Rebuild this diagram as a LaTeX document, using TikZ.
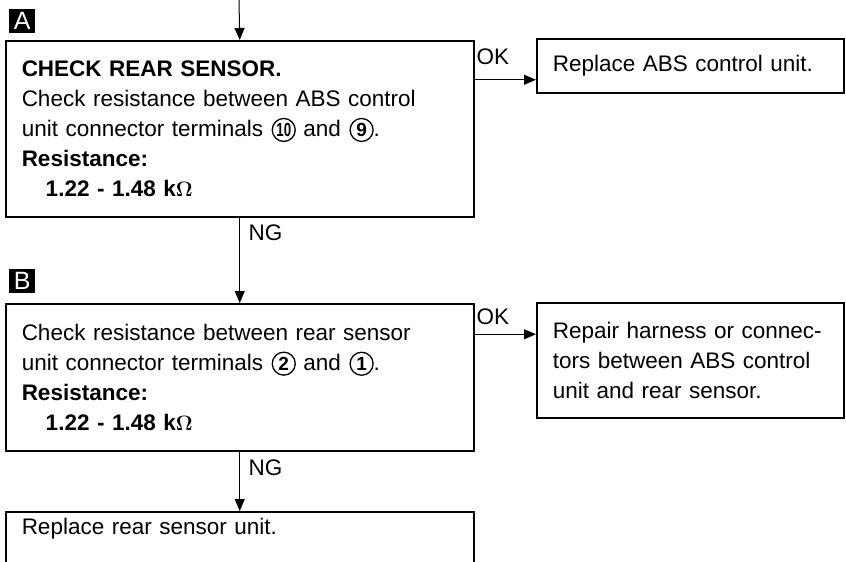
\documentclass[tikz,border=0pt]{standalone}
\usepackage{fontspec}
\usepackage{graphicx}
\setmainfont{Liberation Sans}
\usetikzlibrary{arrows.meta}

\tikzset{
  box/.style={draw, line width=1.5pt, anchor=north west, align=left, inner xsep=16pt,
    font=\fontsize{22.5}{30}\selectfont},
  flow/.style={draw, line width=1pt, -{Triangle[length=12pt,width=10pt]}},
  tag/.style={fill=black, text=white, anchor=north west, inner sep=0pt,
    minimum width=26pt, minimum height=24pt, font=\fontsize{25}{25}\selectfont},
  lbl/.style={font=\fontsize{22.5}{22.5}\selectfont}
}
% circled terminal number
\newcommand{\term}[1]{\hspace{1pt}\tikz[baseline=(t.base)]\node[draw, circle, line width=1.3pt,
  inner sep=0pt, minimum size=23pt, font=\bfseries\fontsize{19}{19}\selectfont] (t) {#1};}

\begin{document}
\begin{tikzpicture}[x=1pt, y=-1pt]
    \useasboundingbox (0,0) rectangle (846,562);

    % step A
    \node[tag] (tagA) at (9,9) {A};
    \node[box, text width=436pt, minimum height=176pt] (chkA) at (5,40) {%
      \textbf{CHECK REAR SENSOR.}\\
      Check resistance between ABS control\\
      unit connector terminals \term{\scalebox{0.7}[1]{10}} and \term{9}.\\
      \textbf{Resistance:}\\
      \hspace*{24pt}\textbf{1.22 - 1.48 k}{\boldmath$\Omega$}};
    \node[box, text width=275pt, minimum height=54pt] (repA) at (536,38)
      {Replace ABS control unit.};

    % step B
    \node[tag] (tagB) at (9,269) {B};
    \node[box, text width=436pt, minimum height=147pt] (chkB) at (5,303) {%
      Check resistance between rear sensor\\
      unit connector terminals \term{2} and \term{1}.\\
      \textbf{Resistance:}\\
      \hspace*{24pt}\textbf{1.22 - 1.48 k}{\boldmath$\Omega$}};
    \node[box, text width=275pt, minimum height=115pt] (repB) at (536,302) {%
      Repair harness or connec-\\
      tors between ABS control\\
      unit and rear sensor.};

    % last step, runs off the page
    \node[box, text width=436pt, inner ysep=6pt, text depth=60pt] (repS) at (5,511)
      {Replace rear sensor unit.};

    % connectors
    \coordinate (start) at (239,0);
    \coordinate (okAin) at ([yshift=-14pt]repA.west);
    \coordinate (okBin) at ([yshift=26pt]repB.west);
    \draw[flow] (start) -- (chkA.north);
    \draw[flow] (okAin -| chkA.east) -- node[lbl, above=11pt, pos=0.3] (okA) {OK} (okAin);
    \draw[flow] (chkA.south) -- node[lbl, right=5pt, pos=0.18] (ngA) {NG} (chkB.north);
    \draw[flow] (okBin -| chkB.east) -- node[lbl, above=6pt, pos=0.3] (okB) {OK} (okBin);
    \draw[flow] (chkB.south) -- node[lbl, right=5pt, pos=0.27] (ngB) {NG} (repS.north);
\end{tikzpicture}
\end{document}
